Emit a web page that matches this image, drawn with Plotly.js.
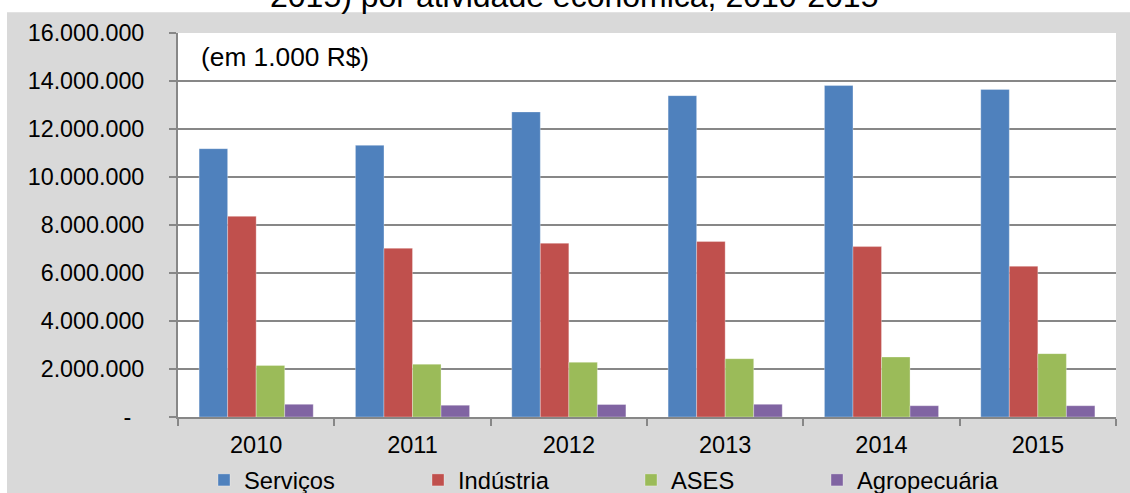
<!DOCTYPE html>
<html>
<head>
<meta charset="utf-8">
<script src="https://cdn.plot.ly/plotly-3.0.1.min.js"></script>
<style>html,body{margin:0;padding:0;background:#fff;}#chart{width:1130px;height:493px;}</style>
</head>
<body>
<div id="chart"></div>
<script>
// Data (values in 1.000 R$)
var years = ['2010', '2011', '2012', '2013', '2014', '2015'];
var servicos   = [11180000, 11320000, 12710000, 13390000, 13810000, 13650000];
var industria  = [8360000, 7030000, 7240000, 7310000, 7100000, 6280000];
var ases       = [2150000, 2200000, 2280000, 2430000, 2500000, 2640000];
var agro       = [530000, 490000, 520000, 530000, 470000, 470000];
var seriesNames = ['Serviços', 'Indústria', 'ASES', 'Agropecuária'];
var yTickVals = [0, 2000000, 4000000, 6000000, 8000000, 10000000, 12000000, 14000000, 16000000];
var yTickText = ['-\u00a0\u00a0', '2.000.000', '4.000.000', '6.000.000', '8.000.000', '10.000.000', '12.000.000', '14.000.000', '16.000.000'];
var titleText = '2015) por atividade econômica, 2010-2015';
var unitText = '(em 1.000 R$)';

var colors = ['#4f81bd', '#c0504d', '#9bbb59', '#8064a2'];
var allSeries = [servicos, industria, ases, agro];
var legendIds = ['legend', 'legend2', 'legend3', 'legend4'];

var FONT = '"Liberation Sans", Arial, sans-serif';
var traces = allSeries.map(function (vals, i) {
  return {
    type: 'bar',
    name: seriesNames[i],
    x: years,
    y: vals,
    legend: legendIds[i],
    marker: {color: colors[i], line: {color: 'rgba(255,255,255,0.5)', width: 0.6}},
    hoverinfo: 'x+y+name'
  };
});

function legendAt(px) {
  return {
    orientation: 'h',
    xref: 'container',
    yref: 'container',
    x: px / 1130,
    xanchor: 'left',
    y: 1 - 480 / 493,
    yanchor: 'middle',
    bgcolor: 'rgba(0,0,0,0)',
    borderwidth: 0,
    font: {family: FONT, size: 23.7, color: '#000'},
    itemwidth: 30
  };
}

var layout = {
  width: 1130,
  height: 493,
  margin: {l: 178, r: 14, t: 33, b: 76},
  paper_bgcolor: '#d9d9d9',
  plot_bgcolor: '#ffffff',
  font: {family: FONT, color: '#000'},
  barmode: 'group',
  bargap: 0.27,
  bargroupgap: 0,
  showlegend: true,
  legend: legendAt(204),
  legend2: legendAt(418),
  legend3: legendAt(631),
  legend4: legendAt(817),
  xaxis: {
    type: 'category',
    automargin: false,
    showgrid: false,
    showline: true,
    linecolor: '#878787',
    linewidth: 2,
    ticks: 'outside',
    tickson: 'boundaries',
    ticklen: 7,
    tickwidth: 2,
    tickcolor: '#878787',
    ticklabelstandoff: 6,
    tickfont: {family: FONT, size: 23.5, color: '#000'},
    zeroline: false
  },
  yaxis: {
    automargin: false,
    range: [0, 16000000],
    tickvals: yTickVals,
    ticktext: yTickText,
    showgrid: true,
    gridcolor: '#878787',
    gridwidth: 1.6,
    showline: true,
    linecolor: '#878787',
    linewidth: 2,
    ticks: 'outside',
    ticklen: 7,
    tickwidth: 2,
    tickcolor: '#878787',
    ticklabelstandoff: 20,
    tickfont: {family: FONT, size: 23.3, color: '#000'},
    zeroline: false
  },
  shapes: [
    {type: 'rect', xref: 'paper', yref: 'paper', x0: -0.5, x1: 1.5, y0: 1.054, y1: 1.3, fillcolor: '#ffffff', line: {width: 0}, layer: 'below'},
    {type: 'rect', xref: 'paper', yref: 'paper', x0: -0.5, x1: (7 - 178) / 938, y0: -0.5, y1: 1.3, fillcolor: '#ffffff', line: {width: 0}, layer: 'below'}
  ],
  annotations: [
    {text: titleText, xref: 'paper', yref: 'paper', x: (574 - 178) / 938, y: (417 + 4.5) / 384, xanchor: 'center', yanchor: 'middle', showarrow: false, font: {family: FONT, size: 32, color: '#000'}},
    {text: unitText, xref: 'paper', yref: 'paper', x: (199 - 178) / 938, y: (417 - 57) / 384, xanchor: 'left', yanchor: 'middle', showarrow: false, font: {family: FONT, size: 26.3, color: '#000'}}
  ]
};

Plotly.newPlot('chart', traces, layout, {displayModeBar: false, responsive: false});
</script>
</body>
</html>
